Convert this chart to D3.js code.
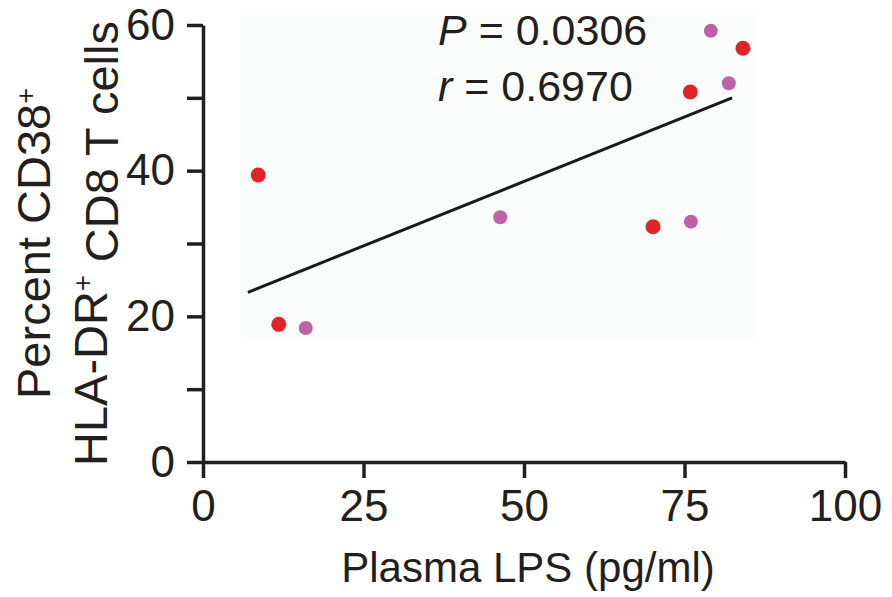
<!DOCTYPE html>
<html>
<head>
<meta charset="utf-8">
<script src="https://cdn.jsdelivr.net/npm/d3@7"></script>
<style>
  body { margin: 0; background: #fff; }
  text { font-family: "Liberation Sans", Arial, Helvetica, sans-serif; fill: #231f20; }
</style>
</head>
<body>
<svg id="chart"></svg>
<script>
// values
var lpsRed = [8.6, 11.8, 70.1, 75.9, 84.1]
var cd38Red = [39.4, 18.9, 32.3, 50.8, 56.8]
var lpsPink = [16.0, 46.3, 76.0, 79.1, 81.9]
var cd38Pink = [18.4, 33.6, 33.0, 59.2, 52.0]
var fitX = [7.0, 82.4]
var fitY = [23.3, 50.0]
var xTicks = [0, 25, 50, 75, 100]
var yTicks = [0, 10, 20, 30, 40, 50, 60]
var yLabels = [0, 20, 40, 60]
var statLines = ["= 0.0306", "= 0.6970"]
var statNames = ["P", "r"]

var dimensions = {
    width: 892,
    height: 597,
    margin: {top: 25, bottom: 135, right: 47, left: 203}
}

var svg = d3.select("#chart")
    .attr("width", dimensions.width)
    .attr("height", dimensions.height)

var xScale = d3.scaleLinear()
    .domain([0, 100])
    .range([dimensions.margin.left, dimensions.width - dimensions.margin.right])

var yScale = d3.scaleLinear()
    .domain([0, 60])
    .range([dimensions.height - dimensions.margin.bottom, dimensions.margin.top])

// faint tint behind the points (scan artefact in the source)
svg.append("rect")
    .attr("x", 241).attr("y", 14)
    .attr("width", 515).attr("height", 327)
    .attr("fill", "#fbfcfc")

var xAxis = svg.append("g")
    .attr("transform", "translate(0," + yScale(0) + ")")
    .call(d3.axisBottom(xScale).tickValues(xTicks).tickSize(16).tickSizeOuter(0).tickPadding(12))
xAxis.selectAll("text").style("font-size", "44px")

var yAxis = svg.append("g")
    .attr("transform", "translate(" + xScale(0) + ",0)")
    .call(d3.axisLeft(yScale).tickValues(yTicks).tickSize(16).tickSizeOuter(0).tickPadding(12)
        .tickFormat(d => yLabels.includes(d) ? d : ""))
yAxis.selectAll("text").style("font-size", "44px")

svg.selectAll(".domain, .tick line")
    .attr("stroke", "#231f20")
    .attr("stroke-width", 3.5)

// regression line
svg.append("line")
    .attr("x1", xScale(fitX[0])).attr("y1", yScale(fitY[0]))
    .attr("x2", xScale(fitX[1])).attr("y2", yScale(fitY[1]))
    .attr("stroke", "#1a1a1a")
    .attr("stroke-width", 3)

svg.append("g").selectAll("circle")
    .data(d3.zip(lpsPink, cd38Pink))
    .enter()
    .append("circle")
    .attr("cx", d => xScale(d[0]))
    .attr("cy", d => yScale(d[1]))
    .attr("r", 7)
    .attr("fill", "#bd62a6")

svg.append("g").selectAll("circle")
    .data(d3.zip(lpsRed, cd38Red))
    .enter()
    .append("circle")
    .attr("cx", d => xScale(d[0]))
    .attr("cy", d => yScale(d[1]))
    .attr("r", 7.5)
    .attr("fill", "#e2232c")

// P and r
statLines.forEach(function(s, i){
    var t = svg.append("text")
        .attr("x", 438)
        .attr("y", 45 + i * 56)
        .style("font-size", "43px")
    t.append("tspan").style("font-style", "italic").text(statNames[i])
    t.append("tspan").text(" " + s)
})

// axis titles
svg.append("text")
    .attr("x", (xScale(0) + xScale(100)) / 2 + 4)
    .attr("y", 582)
    .attr("text-anchor", "middle")
    .style("font-size", "42px")
    .text("Plasma LPS (pg/ml)")

var midY = (yScale(0) + yScale(60)) / 2

var t1 = svg.append("text")
    .attr("transform", "translate(50," + midY + ") rotate(-90)")
    .attr("text-anchor", "middle")
    .style("font-size", "47px")
t1.append("tspan").text("Percent CD38")
t1.append("tspan").attr("dy", "-0.55em").style("font-size", "27px").text("+")

var t2 = svg.append("text")
    .attr("transform", "translate(107," + midY + ") rotate(-90)")
    .attr("text-anchor", "middle")
    .style("font-size", "47px")
t2.append("tspan").text("HLA-DR")
t2.append("tspan").attr("dy", "-0.55em").style("font-size", "27px").text("+")
t2.append("tspan").attr("dy", "0.55em").text(" CD8 T cells")
</script>
</body>
</html>
